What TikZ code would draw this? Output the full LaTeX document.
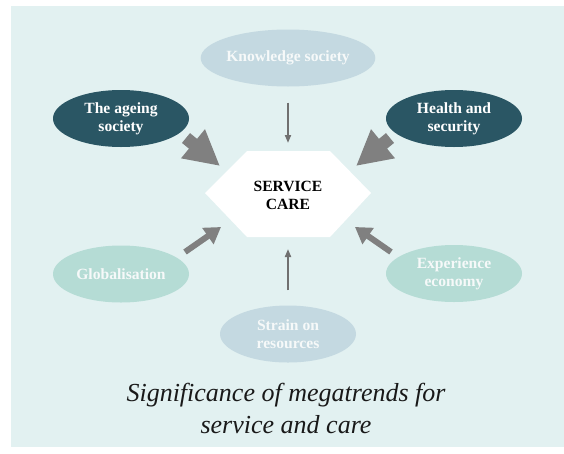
\documentclass[tikz,border=0pt]{standalone}
\usepackage{fontspec}
\setmainfont{Liberation Serif}
\usetikzlibrary{arrows.meta,shapes.geometric}
\definecolor{panel}{HTML}{E2F1F1}
\definecolor{darkteal}{HTML}{2A5664}
\definecolor{paleblue}{HTML}{C4D9E1}
\definecolor{palegreen}{HTML}{B5DCD5}
\definecolor{arrowgray}{HTML}{808080}
\definecolor{thingray}{HTML}{707070}
\definecolor{lighttext}{HTML}{F6F9F9}
\tikzset{
  trend/.style={ellipse, minimum width=136pt, minimum height=57pt, inner sep=0pt,
    align=center, font=\fontsize{15.6}{18}\selectfont\bfseries},
  darktrend/.style={trend, fill=darkteal, text=white},
  bluetrend/.style={trend, fill=paleblue, text=lighttext},
  greentrend/.style={trend, fill=palegreen, text=lighttext},
  bigarrow/.style={draw=arrowgray, line width=12.7pt, -{Triangle[length=35pt,width=35pt]}, arrowgray},
  midarrow/.style={draw=arrowgray, line width=6pt, -{Triangle[length=16pt,width=19pt]}, arrowgray},
  thinarrow/.style={draw=thingray, line width=1.8pt, -{Triangle[length=8pt,width=6pt]}, thingray},
}
\begin{document}
\begin{tikzpicture}[x=1pt,y=-1pt]
\useasboundingbox (0,0) rectangle (564,453);
\fill[panel] (11,6) rectangle (564,447);
% centre hexagon
\fill[white] (205,193) -- (247,151) -- (330,151) -- (371,193) -- (330,237) -- (247,237) -- cycle;
\node[inner sep=0pt, minimum width=100pt, minimum height=60pt, align=center,
  font=\fontsize{15.6}{18}\selectfont\bfseries] (svc) at (288,195) {SERVICE\\CARE};
% trends
\node[bluetrend] (know) at (288,58) {Knowledge society};
\node[darktrend] (age) at (121,118.5) {The ageing\\society};
\node[darktrend] (health) at (454,118.5) {Health and\\security};
\node[greentrend] (glob) at (121,274) {Globalisation};
\node[greentrend] (exp) at (454,273.5) {Experience\\economy};
\node[bluetrend] (strain) at (288,334) {Strain on\\resources};
% arrow end points
\coordinate (ageT) at (186,138);
\coordinate (ageH) at (220,166);
\coordinate (healthT) at (390,138);
\coordinate (healthH) at (356,166);
\coordinate (globT) at (185,252);
\coordinate (globH) at (221,227);
\coordinate (expT) at (391,252);
\coordinate (expH) at (355,227);
\coordinate (knowH) at (288,143);
\coordinate (strainH) at (288,249);
\draw[bigarrow] (ageT) -- (ageH);
\draw[bigarrow] (healthT) -- (healthH);
\draw[midarrow] (globT) -- (globH);
\draw[midarrow] (expT) -- (expH);
\draw[thinarrow, shorten <=16pt] (know.south) -- (knowH);
\draw[thinarrow, shorten <=15pt] (strain.north) -- (strainH);
% title
\node[align=center, text=black!90, font=\fontsize{26}{32}\selectfont\itshape] (title) at (286,408)
  {Significance of megatrends for\\service and care};
\end{tikzpicture}
\end{document}
